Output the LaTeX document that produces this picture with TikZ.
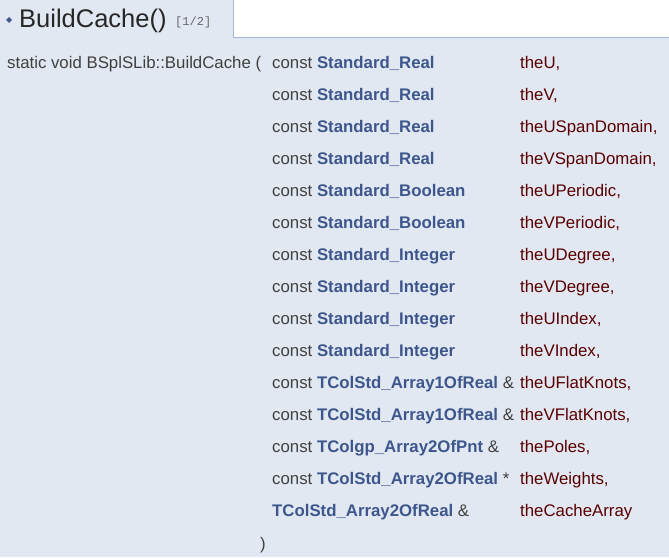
\documentclass[tikz,border=0pt]{standalone}
\usepackage{fontspec}
\setmainfont{Liberation Sans}
\setmonofont{Liberation Mono}
\newfontfamily\djv{DejaVu Sans}
\begin{document}
\begin{tikzpicture}[x=1pt,y=-1pt,
  txt/.style={anchor=base west,inner sep=0pt,text=black!75,font=\fontsize{16.8}{20}\selectfont},
  typ/.style={txt},
  nm/.style={txt,text=red!35!black}]
\definecolor{bg}{HTML}{E2E8F2}
\definecolor{bd}{HTML}{A8B8D9}
\definecolor{lnk}{HTML}{3D578C}
\useasboundingbox (0,0) rectangle (669,557);
\fill[white] (0,0) rectangle (669,557);
\fill[bg] (0,37) rectangle (669,557);
\fill[bg] (0,0) rectangle (233,37);
\draw[bd] (233,0) -- (233,37) -- (669,37);
\node[txt,font=\djv\fontsize{8}{10}\selectfont,text=lnk] (dia) at (6,22) {◆};
\node[txt,font=\fontsize{25.5}{28}\selectfont,text=black!85] (title) at (19,27) {BuildCache()};
\node[txt,font=\ttfamily\fontsize{12}{12}\selectfont,text=black!60] (idx) at (175,25) {[1/2]};
\node[txt] (sig) at (7,68) {static void BSplSLib::BuildCache (};
\newcommand{\prow}[4]{%
  \node[typ] (t#1) at (272,{68+32*#1}) {#2};
  \node[nm] (n#1) at (520,{68+32*#1}) {#3};}
\newcommand{\ty}[1]{\textbf{\textcolor{lnk}{#1}}}
\prow{0}{const \ty{Standard\_Real}}{theU,}{}
\prow{1}{const \ty{Standard\_Real}}{theV,}{}
\prow{2}{const \ty{Standard\_Real}}{theUSpanDomain,}{}
\prow{3}{const \ty{Standard\_Real}}{theVSpanDomain,}{}
\prow{4}{const \ty{Standard\_Boolean}}{theUPeriodic,}{}
\prow{5}{const \ty{Standard\_Boolean}}{theVPeriodic,}{}
\prow{6}{const \ty{Standard\_Integer}}{theUDegree,}{}
\prow{7}{const \ty{Standard\_Integer}}{theVDegree,}{}
\prow{8}{const \ty{Standard\_Integer}}{theUIndex,}{}
\prow{9}{const \ty{Standard\_Integer}}{theVIndex,}{}
\prow{10}{const \ty{TColStd\_Array1OfReal} \&}{theUFlatKnots,}{}
\prow{11}{const \ty{TColStd\_Array1OfReal} \&}{theVFlatKnots,}{}
\prow{12}{const \ty{TColgp\_Array2OfPnt} \&}{thePoles,}{}
\prow{13}{const \ty{TColStd\_Array2OfReal} *}{theWeights,}{}
\prow{14}{\ty{TColStd\_Array2OfReal} \&}{theCacheArray}{}
\node[txt] (close) at (260,549) {)};
\end{tikzpicture}
\end{document}
